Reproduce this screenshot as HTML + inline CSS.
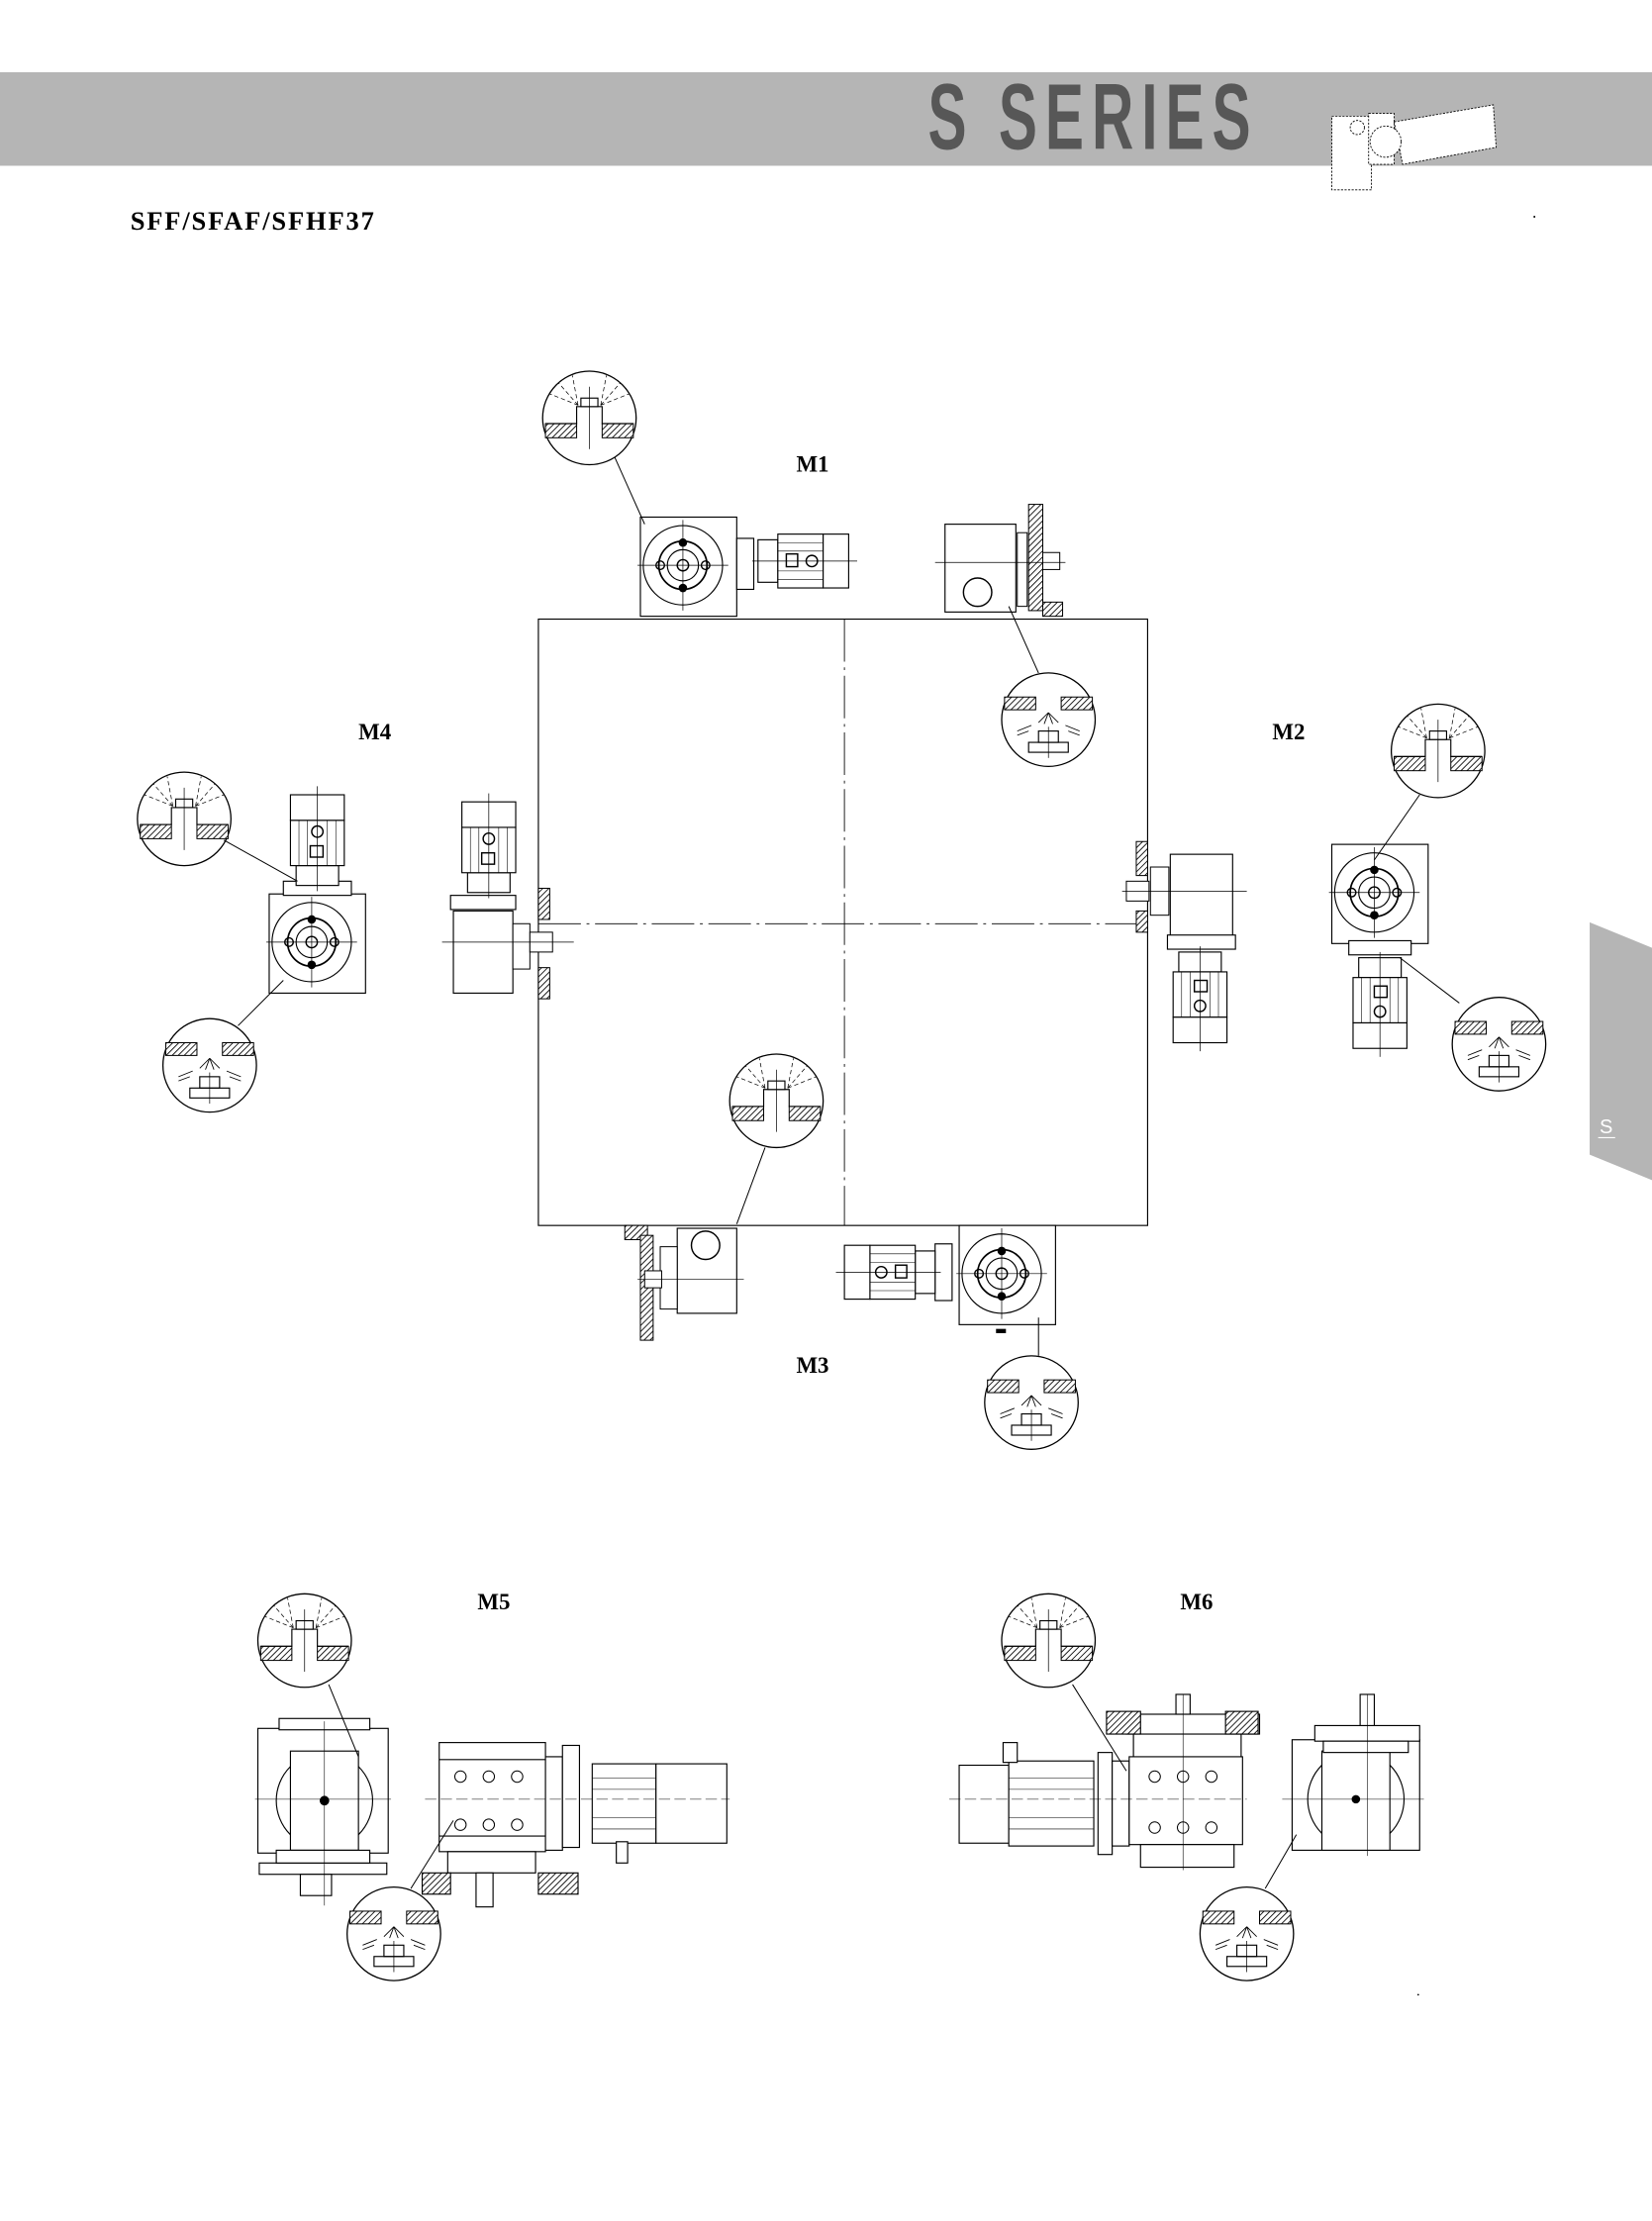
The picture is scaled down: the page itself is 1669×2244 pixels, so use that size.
<!DOCTYPE html>
<html><head><meta charset="utf-8"><style>
html,body{margin:0;padding:0;background:#fff;}
svg{display:block;}
</style></head><body>
<svg width="1669" height="2244" viewBox="0 0 1166 1567.7" xmlns="http://www.w3.org/2000/svg" font-family="Liberation Serif, serif">
<defs>
<pattern id="h" width="3" height="3" patternUnits="userSpaceOnUse" patternTransform="rotate(45)">
<rect width="3" height="3" fill="#fff"/><line x1="0" y1="0" x2="0" y2="3" stroke="#000" stroke-width="1.2"/></pattern>
<g id="bA">
<circle r="33" fill="#fff" stroke="#000" stroke-width="0.9"/>
<rect x="-31" y="4" width="22" height="10" fill="url(#h)" stroke="#000" stroke-width="0.7"/>
<rect x="9" y="4" width="22" height="10" fill="url(#h)" stroke="#000" stroke-width="0.7"/>
<path d="M-31 4H-9V-8H9V4H31" fill="none" stroke="#000" stroke-width="0.8"/>
<rect x="-6" y="-14" width="12" height="6" fill="#fff" stroke="#000" stroke-width="0.8"/>
<line x1="0" y1="-22" x2="0" y2="22" stroke="#000" stroke-width="0.5"/>
<g stroke="#000" stroke-width="0.5" stroke-dasharray="3 2">
<line x1="-8" y1="-9" x2="-28" y2="-17"/><line x1="-8" y1="-9" x2="-22" y2="-25"/><line x1="-8" y1="-9" x2="-12" y2="-30"/>
<line x1="8" y1="-9" x2="28" y2="-17"/><line x1="8" y1="-9" x2="22" y2="-25"/><line x1="8" y1="-9" x2="12" y2="-30"/></g>
</g>
<g id="bB">
<circle r="33" fill="#fff" stroke="#000" stroke-width="0.9"/>
<rect x="-31" y="-16" width="22" height="9" fill="url(#h)" stroke="#000" stroke-width="0.7"/>
<rect x="9" y="-16" width="22" height="9" fill="url(#h)" stroke="#000" stroke-width="0.7"/>
<g stroke="#000" stroke-width="0.6"><line x1="0" y1="-5" x2="-7" y2="2"/><line x1="0" y1="-5" x2="7" y2="2"/><line x1="0" y1="-5" x2="-3" y2="3"/><line x1="0" y1="-5" x2="3" y2="3"/>
<line x1="-12" y1="4" x2="-22" y2="8"/><line x1="-14" y1="8" x2="-22" y2="11"/><line x1="12" y1="4" x2="22" y2="8"/><line x1="14" y1="8" x2="22" y2="11"/></g>
<rect x="-7" y="8" width="14" height="8" fill="none" stroke="#000" stroke-width="0.8"/>
<rect x="-14" y="16" width="28" height="7" fill="none" stroke="#000" stroke-width="0.8"/>
<line x1="0" y1="5" x2="0" y2="27" stroke="#000" stroke-width="0.5"/>
</g>
<g id="face">
<rect x="-30" y="-34" width="68" height="70" fill="#fff" stroke="#000" stroke-width="0.8"/>
<circle r="28" fill="#fff" stroke="#000" stroke-width="0.8"/>
<circle r="17" fill="none" stroke="#000" stroke-width="1.2"/>
<circle r="11" fill="none" stroke="#000" stroke-width="0.8"/>
<circle r="4" fill="none" stroke="#000" stroke-width="1"/>
<circle cx="0" cy="-16" r="3" fill="#000"/><circle cx="0" cy="16" r="3" fill="#000"/>
<circle cx="-16" cy="0" r="3" fill="none" stroke="#000"/><circle cx="16" cy="0" r="3" fill="none" stroke="#000"/>
<line x1="-32" y1="0" x2="32" y2="0" stroke="#000" stroke-width="0.5"/><line x1="0" y1="-32" x2="0" y2="32" stroke="#000" stroke-width="0.5"/>
</g>
<g id="motorH">
<rect x="0" y="-15" width="14" height="30" fill="#fff" stroke="#000" stroke-width="0.8"/>
<rect x="14" y="-19" width="32" height="38" fill="#fff" stroke="#000" stroke-width="0.8"/>
<rect x="46" y="-19" width="18" height="38" fill="#fff" stroke="#000" stroke-width="0.8"/>
<g stroke="#000" stroke-width="0.4"><line x1="14" y1="-13" x2="46" y2="-13"/><line x1="14" y1="-7" x2="46" y2="-7"/><line x1="14" y1="7" x2="46" y2="7"/><line x1="14" y1="13" x2="46" y2="13"/></g>
<rect x="20" y="-5" width="8" height="9" fill="none" stroke="#000"/><circle cx="38" cy="0" r="4" fill="none" stroke="#000"/>
<line x1="-4" y1="0" x2="70" y2="0" stroke="#000" stroke-width="0.5"/>
</g>
</defs>

<!-- header -->
<rect x="0" y="51" width="1166" height="66" fill="#b5b5b5"/>
<text x="0" y="0" transform="translate(655,105) scale(0.62,1)" font-family="Liberation Sans, sans-serif" font-weight="bold" font-size="66" fill="#575757" letter-spacing="9">S SERIES</text>
<g fill="#fff" stroke="#000" stroke-width="0.6" stroke-dasharray="1.5 1">
<rect x="940" y="82" width="28" height="52"/><rect x="966" y="80" width="18" height="36"/>
<polygon points="984,86 1054,74 1056,104 990,116"/><circle cx="978" cy="100" r="11"/>
<circle cx="958" cy="90" r="5"/></g>
<text x="92" y="162" font-weight="bold" font-size="18.5" letter-spacing="1.3">SFF/SFAF/SFHF37</text>
<circle cx="1083" cy="153" r="0.7" fill="#000"/>

<!-- right tab -->
<polygon points="1122,651 1166,669 1166,833 1122,815" fill="#b5b5b5"/>
<text x="1129" y="800" font-family="Liberation Sans, sans-serif" font-size="14" fill="#fff">S</text>
<line x1="1128" y1="803" x2="1140" y2="803" stroke="#fff" stroke-width="0.8"/>

<!-- central square -->
<rect x="380" y="437" width="430" height="428" fill="none" stroke="#000" stroke-width="0.8"/>
<line x1="596" y1="437" x2="596" y2="865" stroke="#000" stroke-width="0.6" stroke-dasharray="30 4 2 4"/>
<line x1="380" y1="652" x2="810" y2="652" stroke="#000" stroke-width="0.6" stroke-dasharray="30 4 2 4"/>

<g font-weight="bold" font-size="16">
<text x="562" y="333">M1</text><text x="898" y="522">M2</text><text x="253" y="522">M4</text><text x="562" y="969">M3</text><text x="337" y="1136">M5</text><text x="833" y="1136">M6</text></g>

<!-- M1 -->
<use href="#face" x="482" y="399"/>
<rect x="520" y="380" width="12" height="36" fill="#fff" stroke="#000" stroke-width="0.8"/>
<use href="#motorH" x="535" y="396"/>
<g><rect x="667" y="370" width="50" height="62" fill="#fff" stroke="#000" stroke-width="0.8"/>
<circle cx="690" cy="418" r="10" fill="none" stroke="#000"/>
<rect x="718" y="376" width="7" height="52" fill="#fff" stroke="#000" stroke-width="0.7"/>
<rect x="726" y="356" width="10" height="75" fill="url(#h)" stroke="#000" stroke-width="0.7"/>
<rect x="736" y="425" width="14" height="10" fill="url(#h)" stroke="#000" stroke-width="0.7"/>
<rect x="736" y="390" width="12" height="12" fill="#fff" stroke="#000" stroke-width="0.7"/>
<line x1="660" y1="397" x2="752" y2="397" stroke="#000" stroke-width="0.5"/></g>
<use href="#bA" x="416" y="295"/><line x1="434" y1="323" x2="455" y2="370" stroke="#000" stroke-width="0.7"/>
<use href="#bB" x="740" y="508"/><line x1="733" y1="475" x2="712" y2="428" stroke="#000" stroke-width="0.7"/>

<!-- M4 -->
<use href="#face" x="220" y="665"/>
<rect x="200" y="622" width="48" height="10" fill="#fff" stroke="#000" stroke-width="0.8"/>
<g transform="translate(224,625) rotate(-90)"><use href="#motorH"/></g>
<g><rect x="320" y="643" width="42" height="58" fill="#fff" stroke="#000" stroke-width="0.8"/>
<rect x="318" y="632" width="46" height="10" fill="#fff" stroke="#000" stroke-width="0.8"/>
<g transform="translate(345,630) rotate(-90)"><use href="#motorH"/></g>
<rect x="362" y="652" width="12" height="32" fill="#fff" stroke="#000" stroke-width="0.7"/>
<rect x="380" y="627" width="8" height="22" fill="url(#h)" stroke="#000" stroke-width="0.7"/>
<rect x="380" y="683" width="8" height="22" fill="url(#h)" stroke="#000" stroke-width="0.7"/>
<rect x="374" y="658" width="16" height="14" fill="#fff" stroke="#000" stroke-width="0.7"/>
<line x1="312" y1="665" x2="405" y2="665" stroke="#000" stroke-width="0.5"/></g>
<use href="#bA" x="130" y="578"/><line x1="158" y1="593" x2="210" y2="622" stroke="#000" stroke-width="0.7"/>
<use href="#bB" x="148" y="752"/><line x1="168" y1="724" x2="200" y2="692" stroke="#000" stroke-width="0.7"/>

<!-- M2 -->
<g><rect x="826" y="603" width="44" height="58" fill="#fff" stroke="#000" stroke-width="0.8"/>
<rect x="824" y="660" width="48" height="10" fill="#fff" stroke="#000" stroke-width="0.8"/>
<g transform="translate(847,672) rotate(90)"><use href="#motorH"/></g>
<rect x="812" y="612" width="13" height="34" fill="#fff" stroke="#000" stroke-width="0.7"/>
<rect x="802" y="594" width="8" height="24" fill="url(#h)" stroke="#000" stroke-width="0.7"/>
<rect x="802" y="643" width="8" height="15" fill="url(#h)" stroke="#000" stroke-width="0.7"/>
<rect x="795" y="622" width="16" height="14" fill="#fff" stroke="#000" stroke-width="0.7"/>
<line x1="792" y1="629" x2="880" y2="629" stroke="#000" stroke-width="0.5"/></g>
<use href="#face" x="970" y="630"/>
<rect x="952" y="664" width="44" height="10" fill="#fff" stroke="#000" stroke-width="0.8"/>
<g transform="translate(974,676) rotate(90)"><use href="#motorH"/></g>
<use href="#bA" x="1015" y="530"/><line x1="1002" y1="561" x2="970" y2="607" stroke="#000" stroke-width="0.7"/>
<use href="#bB" x="1058" y="737"/><line x1="1030" y1="708" x2="988" y2="676" stroke="#000" stroke-width="0.7"/>

<!-- M3 -->
<g><rect x="478" y="867" width="42" height="60" fill="#fff" stroke="#000" stroke-width="0.8"/>
<circle cx="498" cy="879" r="10" fill="none" stroke="#000"/>
<rect x="466" y="880" width="12" height="44" fill="#fff" stroke="#000" stroke-width="0.7"/>
<rect x="441" y="865" width="16" height="10" fill="url(#h)" stroke="#000" stroke-width="0.7"/>
<rect x="452" y="872" width="9" height="74" fill="url(#h)" stroke="#000" stroke-width="0.7"/>
<rect x="455" y="897" width="12" height="12" fill="#fff" stroke="#000" stroke-width="0.7"/>
<line x1="450" y1="903" x2="525" y2="903" stroke="#000" stroke-width="0.5"/></g>
<use href="#face" x="707" y="899"/>
<rect x="660" y="878" width="12" height="40" fill="#fff" stroke="#000" stroke-width="0.8"/>
<g transform="translate(660,898) scale(-1,1)"><use href="#motorH"/></g>
<rect x="703" y="938" width="7" height="3" fill="#000"/>
<use href="#bA" x="548" y="777"/><line x1="540" y1="810" x2="520" y2="864" stroke="#000" stroke-width="0.7"/>
<use href="#bB" x="728" y="990"/><line x1="733" y1="957" x2="733" y2="930" stroke="#000" stroke-width="0.7"/>

<!-- M5 -->
<g stroke="#000" stroke-width="0.8" fill="#fff">
<rect x="182" y="1220" width="92" height="88"/>
<rect x="197" y="1213" width="64" height="8"/>
<circle cx="229" cy="1271" r="34"/>
<rect x="205" y="1236" width="48" height="70"/>
<rect x="183" y="1315" width="90" height="8"/>
<rect x="195" y="1306" width="66" height="9"/>
<rect x="212" y="1323" width="22" height="15"/>
<circle cx="229" cy="1271" r="3" fill="#000"/>
<rect x="310" y="1230" width="75" height="77"/>
<line x1="310" y1="1242" x2="385" y2="1242"/><line x1="310" y1="1296" x2="385" y2="1296"/>
<rect x="316" y="1307" width="62" height="15"/>
<rect x="298" y="1322" width="20" height="15" fill="url(#h)"/>
<rect x="380" y="1322" width="28" height="15" fill="url(#h)"/>
<rect x="336" y="1322" width="12" height="24"/>
<rect x="385" y="1240" width="12" height="66"/>
<rect x="397" y="1232" width="12" height="72"/>
<rect x="418" y="1245" width="45" height="56"/>
<rect x="463" y="1245" width="50" height="56"/>
<rect x="435" y="1300" width="8" height="15"/>
</g>
<g stroke="#000" stroke-width="0.4"><line x1="418" y1="1255" x2="463" y2="1255"/><line x1="418" y1="1263" x2="463" y2="1263"/><line x1="418" y1="1283" x2="463" y2="1283"/><line x1="418" y1="1291" x2="463" y2="1291"/>
<line x1="180" y1="1270" x2="276" y2="1270"/><line x1="229" y1="1215" x2="229" y2="1345"/><line x1="300" y1="1270" x2="515" y2="1270" stroke-dasharray="8 3"/></g>
<g fill="none" stroke="#000" stroke-width="0.7"><circle cx="325" cy="1254" r="4"/><circle cx="345" cy="1254" r="4"/><circle cx="365" cy="1254" r="4"/><circle cx="325" cy="1288" r="4"/><circle cx="345" cy="1288" r="4"/><circle cx="365" cy="1288" r="4"/></g>
<use href="#bA" x="215" y="1158"/><line x1="232" y1="1189" x2="253" y2="1240" stroke="#000" stroke-width="0.7"/>
<use href="#bB" x="278" y="1365"/><line x1="290" y1="1333" x2="320" y2="1285" stroke="#000" stroke-width="0.7"/>

<!-- M6 -->
<g stroke="#000" stroke-width="0.8" fill="#fff">
<rect x="677" y="1246" width="35" height="55"/>
<rect x="712" y="1243" width="60" height="60"/>
<rect x="708" y="1230" width="10" height="14"/>
<rect x="775" y="1237" width="10" height="72"/>
<rect x="785" y="1243" width="12" height="60"/>
<rect x="797" y="1240" width="80" height="62"/>
<rect x="805" y="1302" width="66" height="16"/>
<rect x="800" y="1222" width="76" height="18"/>
<rect x="795" y="1210" width="94" height="14"/>
<rect x="781" y="1208" width="24" height="16" fill="url(#h)"/>
<rect x="865" y="1208" width="23" height="16" fill="url(#h)"/>
<rect x="830" y="1196" width="10" height="14"/>
<rect x="912" y="1228" width="90" height="78"/>
<circle cx="957" cy="1270" r="34"/>
<rect x="933" y="1236" width="48" height="70"/>
<rect x="928" y="1218" width="74" height="11"/>
<rect x="934" y="1229" width="60" height="8"/>
<rect x="960" y="1196" width="10" height="22"/>
</g>
<circle cx="957" cy="1270" r="3" fill="#000"/>
<g stroke="#000" stroke-width="0.4"><line x1="712" y1="1255" x2="772" y2="1255"/><line x1="712" y1="1263" x2="772" y2="1263"/><line x1="712" y1="1283" x2="772" y2="1283"/><line x1="712" y1="1291" x2="772" y2="1291"/>
<line x1="670" y1="1270" x2="880" y2="1270" stroke-dasharray="8 3"/><line x1="835" y1="1196" x2="835" y2="1320"/><line x1="905" y1="1270" x2="1005" y2="1270"/><line x1="965" y1="1196" x2="965" y2="1310"/></g>
<g fill="none" stroke="#000" stroke-width="0.7"><circle cx="815" cy="1254" r="4"/><circle cx="835" cy="1254" r="4"/><circle cx="855" cy="1254" r="4"/><circle cx="815" cy="1290" r="4"/><circle cx="835" cy="1290" r="4"/><circle cx="855" cy="1290" r="4"/></g>
<use href="#bA" x="740" y="1158"/><line x1="757" y1="1189" x2="795" y2="1250" stroke="#000" stroke-width="0.7"/>
<use href="#bB" x="880" y="1365"/><line x1="893" y1="1333" x2="915" y2="1295" stroke="#000" stroke-width="0.7"/>
<circle cx="1001" cy="1408" r="0.6" fill="#000"/>
</svg>
</body></html>
